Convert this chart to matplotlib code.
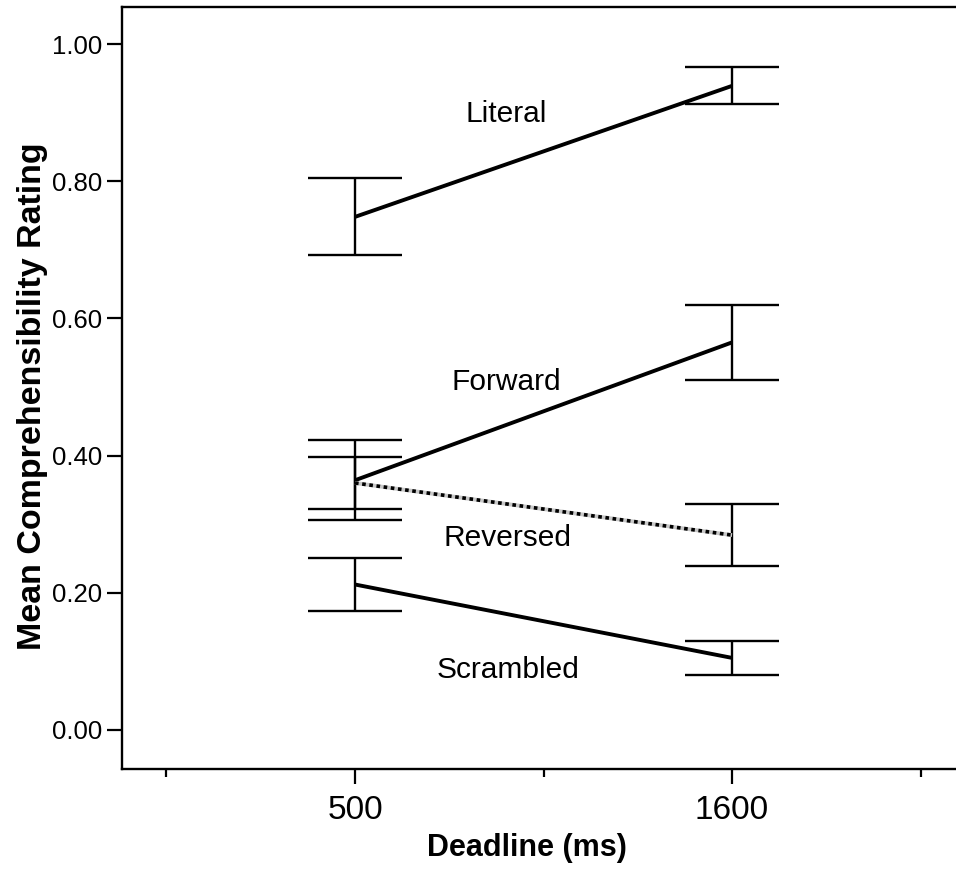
import matplotlib
matplotlib.use("Agg")
import matplotlib.pyplot as plt
import numpy as np

plt.rcParams["font.family"] = ["Liberation Sans", "DejaVu Sans"]

# data
deadlines = ["500", "1600"]
conditions = ["Literal", "Forward", "Reversed", "Scrambled"]
means = {
    "Literal": [0.748, 0.939],
    "Forward": [0.364, 0.565],
    "Reversed": [0.360, 0.284],
    "Scrambled": [0.212, 0.105],
}
half_ci = {
    "Literal": [0.056, 0.027],
    "Forward": [0.058, 0.055],
    "Reversed": [0.038, 0.045],
    "Scrambled": [0.039, 0.025],
}
label_pos = {
    "Literal": (1.40, 0.886),
    "Forward": (1.40, 0.496),
    "Reversed": (1.405, 0.268),
    "Scrambled": (1.405, 0.076),
}
yticks = [0.0, 0.2, 0.4, 0.6, 0.8, 1.0]

W, H = 956, 873
fig = plt.figure(figsize=(W / 100, H / 100), dpi=100)
ax = fig.add_axes([122 / W, (H - 769) / H, (W - 122) / W, (769 - 7) / H])

x = np.arange(1, len(deadlines) + 1)
cap = 0.125

for cond in conditions:
    m = np.array(means[cond])
    e = np.array(half_ci[cond])
    ax.vlines(x, m - e, m + e, color="black", lw=1.7, zorder=2)
    ax.hlines(m - e, x - cap, x + cap, color="black", lw=1.7, zorder=2)
    ax.hlines(m + e, x - cap, x + cap, color="black", lw=1.7, zorder=2)
    if cond == "Reversed":
        ax.plot(x, m, color="#c8c8c8", lw=2.8, solid_capstyle="butt", zorder=3)
        ax.plot(x, m, color="black", lw=2.6, linestyle=(0, (1, 1)),
                dash_capstyle="butt", zorder=3)
    else:
        ax.plot(x, m, color="black", lw=2.8, solid_capstyle="butt", zorder=3)
    tx, ty = label_pos[cond]
    ax.text(tx, ty, cond, fontsize=21.5, ha="center", va="baseline")

ax.set_xlim(0.382, 2.594)
ax.set_ylim(-0.057, 1.054)

ax.set_yticks(yticks)
ax.set_yticklabels([f"{v:.2f}" for v in yticks], fontsize=18.5)
ax.set_xticks(x)
ax.set_xticklabels(deadlines, fontsize=24)
ax.set_xticks([0.5, 1.5, 2.5], minor=True)

ax.tick_params(axis="y", direction="out", length=10.5, width=1.6, pad=3.5)
ax.tick_params(axis="x", which="major", direction="out", length=10.5,
               width=1.6, pad=8)
ax.tick_params(axis="x", which="minor", direction="out", length=5.5,
               width=1.6)

for s in ["left", "bottom", "top"]:
    ax.spines[s].set_linewidth(1.7)
ax.spines["right"].set_visible(False)

ax.set_xlabel("Deadline (ms)", fontsize=22, fontweight="bold", va="center")
ax.xaxis.set_label_coords(0.4856, -0.104)
ax.set_ylabel("Mean Comprehensibility Rating", fontsize=24.5, fontweight="bold",
              va="center")
ax.yaxis.set_label_coords(-0.107, 0.489)

fig.savefig("out.png", dpi=100)
